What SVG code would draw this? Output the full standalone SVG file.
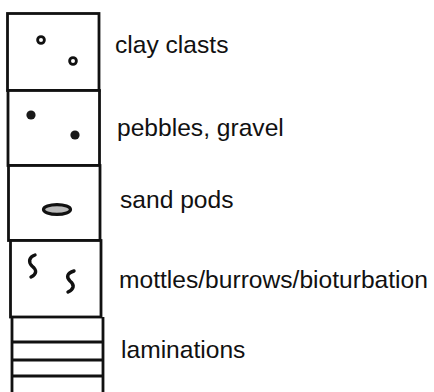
<svg xmlns="http://www.w3.org/2000/svg" width="434" height="392" viewBox="0 0 434 392">
  <style>
    .cell { fill: #fff; stroke: #111; stroke-width: 2.8; }
    .rule { stroke: #111; stroke-width: 2.8; fill: none; }
    .clast { fill: #fff; stroke: #111; stroke-width: 2.8; }
    .pebble { fill: #1a1a1a; }
    .burrow { fill: none; stroke: #111; stroke-width: 3.4; stroke-linecap: round; stroke-linejoin: round; }
    .label { font-family: "Liberation Sans", Arial, sans-serif; font-size: 24.6px; fill: #111; }
  </style>
  <rect width="434" height="392" fill="#fff"/>

  <g id="clay-clasts">
    <rect class="cell" x="7.5" y="13.5" width="91.5" height="77"/>
    <circle class="clast" cx="41" cy="40" r="3.4"/>
    <circle class="clast" cx="73" cy="61" r="3.4"/>
    <text class="label" x="115" y="53">clay clasts</text>
  </g>

  <g id="pebbles-gravel">
    <rect class="cell" x="8" y="90.5" width="91.5" height="75"/>
    <circle class="pebble" cx="31" cy="115" r="4.6"/>
    <circle class="pebble" cx="75" cy="135" r="4.6"/>
    <text class="label" x="117" y="136">pebbles, gravel</text>
  </g>

  <g id="sand-pods">
    <rect class="cell" x="8.5" y="165.5" width="91.5" height="75"/>
    <ellipse cx="57" cy="209.5" rx="13.5" ry="4.8" fill="#bbb" stroke="#111" stroke-width="3.2"/>
    <text class="label" x="120" y="208">sand pods</text>
  </g>

  <g id="bioturbation">
    <rect class="cell" x="10.5" y="240.5" width="90.5" height="76.5"/>
    <path class="burrow" d="M35,255 C29,257 28,262 32,266 C37,270 37,274 31,277"/>
    <path class="burrow" d="M74,271 C67,273 66,277 70,281 C75,285 74,289 68,292"/>
    <text class="label" x="119" y="288">mottles/burrows/bioturbation</text>
  </g>

  <g id="laminations">
    <path class="rule" d="M12,317 V392 M103,317 V392"/>
    <path class="rule" d="M12,342 H103 M12,360 H103 M12,376 H103"/>
    <text class="label" x="121" y="358">laminations</text>
  </g>
</svg>
